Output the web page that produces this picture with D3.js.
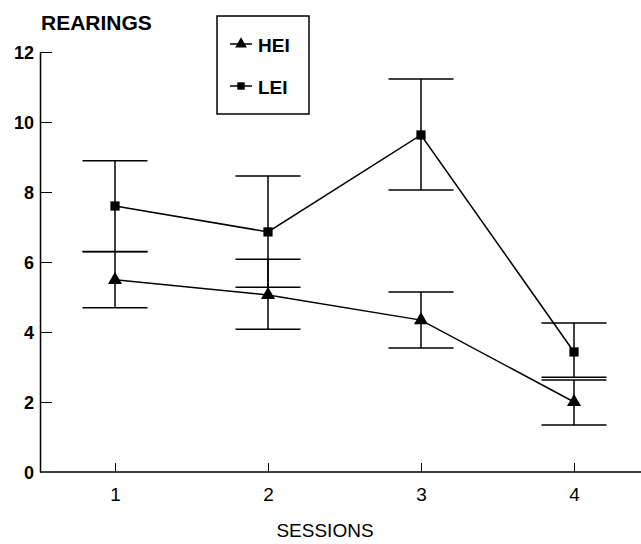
<!DOCTYPE html>
<html>
<head>
<meta charset="utf-8">
<script src="https://cdn.jsdelivr.net/npm/d3@7"></script>
<style>
  html, body { margin: 0; padding: 0; background: #fff; }
  svg { display: block; }
  text { font-family: "Liberation Sans", Arial, sans-serif; fill: #000; }
</style>
</head>
<body>
<svg id="chart" width="641" height="544"></svg>
<script>
// ---- data ----
const sessions = [1, 2, 3, 4];
const yTicks = [0, 2, 4, 6, 8, 10, 12];
const heiMean  = [5.49, 5.06, 4.34, 2.00];
const heiUpper = [6.29, 6.08, 5.14, 2.63];
const heiLower = [4.69, 4.08, 3.54, 1.34];
const leiMean  = [7.60, 6.86, 9.63, 3.43];
const leiUpper = [8.89, 8.46, 11.23, 4.26];
const leiLower = [6.30, 5.28, 8.06, 2.71];
const seriesNames = ["HEI", "LEI"];

const svg = d3.select("#chart");
const x = d3.scaleLinear().domain([1, 4]).range([115, 574]);
const y = d3.scaleLinear().domain([0, 12]).range([472, 52]);
const axisLeftX = 40;
const chartRight = 641;

// y axis
const yAxis = d3.axisLeft(y).tickValues(yTicks).tickSizeInner(-12).tickSizeOuter(0).tickPadding(6);
const gy = svg.append("g").attr("transform", `translate(${axisLeftX},0)`).call(yAxis);
gy.select(".domain").attr("stroke", "#000").attr("stroke-width", 1.5);
gy.selectAll(".tick line").attr("stroke", "#000").attr("stroke-width", 1);
gy.selectAll(".tick line").filter(d => d === 0).remove();
gy.selectAll(".tick text").attr("font-size", 18).attr("font-weight", "bold")
  .attr("font-family", "Liberation Sans, Arial, sans-serif").attr("dy", "0.35em");

// x axis
const xAxis = d3.axisBottom(x).tickValues(sessions).tickFormat(d3.format("d"))
  .tickSizeInner(-9).tickSizeOuter(0).tickPadding(15.5);
const gx = svg.append("g").attr("transform", `translate(0,${y(0)})`).call(xAxis);
gx.select(".domain").remove();
gx.selectAll(".tick line").attr("stroke", "#000").attr("stroke-width", 1);
gx.selectAll(".tick text").attr("font-size", 19).attr("font-family", "Liberation Sans, Arial, sans-serif");
svg.append("line").attr("x1", axisLeftX).attr("x2", chartRight)
  .attr("y1", y(0)).attr("y2", y(0)).attr("stroke", "#000").attr("stroke-width", 1.5);

// axis titles
svg.append("text").attr("x", 41).attr("y", 30).attr("font-size", 21).attr("font-weight", "bold")
  .text("REARINGS");
svg.append("text").attr("x", 325).attr("y", 537).attr("text-anchor", "middle").attr("font-size", 19)
  .text("SESSIONS");

// series
const capHalf = 32.5;
const triangle = d3.symbol().type(d3.symbolTriangle).size(85);
const square = d3.symbol().type(d3.symbolSquare).size(85);

function drawSeries(mean, upper, lower, sym) {
  const g = svg.append("g");
  const idx = d3.range(sessions.length);
  // error bars
  g.selectAll(".eb").data(idx).join("line")
    .attr("x1", i => x(sessions[i])).attr("x2", i => x(sessions[i]))
    .attr("y1", i => y(upper[i])).attr("y2", i => y(lower[i]))
    .attr("stroke", "#000").attr("stroke-width", 1.5);
  g.selectAll(".capu").data(idx).join("line")
    .attr("x1", i => x(sessions[i]) - capHalf).attr("x2", i => x(sessions[i]) + capHalf)
    .attr("y1", i => y(upper[i])).attr("y2", i => y(upper[i]))
    .attr("stroke", "#000").attr("stroke-width", 1.5);
  g.selectAll(".capl").data(idx).join("line")
    .attr("x1", i => x(sessions[i]) - capHalf).attr("x2", i => x(sessions[i]) + capHalf)
    .attr("y1", i => y(lower[i])).attr("y2", i => y(lower[i]))
    .attr("stroke", "#000").attr("stroke-width", 1.5);
  // line
  g.append("path").datum(idx)
    .attr("d", d3.line().x(i => x(sessions[i])).y(i => y(mean[i])))
    .attr("fill", "none").attr("stroke", "#000").attr("stroke-width", 1.5);
  // markers
  g.selectAll(".mk").data(idx).join("path")
    .attr("d", sym)
    .attr("transform", i => `translate(${x(sessions[i])},${y(mean[i])})`)
    .attr("fill", "#000");
}
drawSeries(heiMean, heiUpper, heiLower, triangle);
drawSeries(leiMean, leiUpper, leiLower, square);

// legend
const lg = svg.append("g");
lg.append("rect").attr("x", 217).attr("y", 16).attr("width", 92).attr("height", 98)
  .attr("fill", "none").attr("stroke", "#000").attr("stroke-width", 1.5);
const legendSyms = [d3.symbol().type(d3.symbolTriangle).size(60), d3.symbol().type(d3.symbolSquare).size(55)];
const legendY = [44, 86];
seriesNames.forEach((name, i) => {
  lg.append("line").attr("x1", 230).attr("x2", 252).attr("y1", legendY[i]).attr("y2", legendY[i])
    .attr("stroke", "#000").attr("stroke-width", 1.5);
  lg.append("path").attr("d", legendSyms[i]).attr("transform", `translate(241,${legendY[i]})`).attr("fill", "#000");
  lg.append("text").attr("x", 258).attr("y", legendY[i] + 8).attr("font-size", 19).attr("font-weight", "bold")
    .text(name);
});
</script>
</body>
</html>
